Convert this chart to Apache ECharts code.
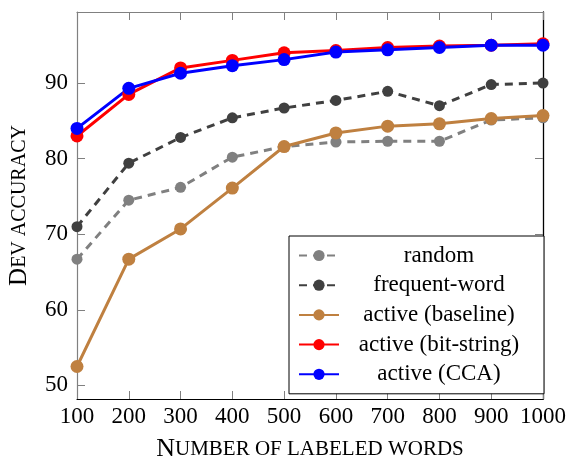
<!DOCTYPE html>
<html>
<head>
<meta charset="utf-8">
<script src="https://cdn.jsdelivr.net/npm/echarts@6/dist/echarts.min.js"></script>
<style>html,body{margin:0;padding:0;background:#fff}#c{width:568px;height:459px}</style>
</head>
<body>
<div id="c"></div>
<script>
var xValues = [100, 200, 300, 400, 500, 600, 700, 800, 900, 1000];
var yTicks = [50, 60, 70, 80, 90];
var randomVals = [66.7, 74.5, 76.2, 80.2, 81.6, 82.2, 82.3, 82.3, 85.1, 85.4];
var frequentVals = [71.0, 79.4, 82.8, 85.4, 86.7, 87.7, 88.9, 87.0, 89.8, 90.0];
var baselineVals = [52.5, 66.7, 70.7, 76.1, 81.6, 83.4, 84.3, 84.6, 85.3, 85.7];
var bitVals = [83.0, 88.5, 92.0, 93.0, 94.0, 94.3, 94.7, 94.9, 95.0, 95.2];
var ccaVals = [84.0, 89.3, 91.3, 92.3, 93.1, 94.1, 94.4, 94.7, 95.0, 95.0];
var seriesNames = ['random', 'frequent-word', 'active (baseline)', 'active (bit-string)', 'active (CCA)'];

function pairs(v) { return xValues.map(function (x, i) { return [x, v[i]]; }); }

var FONT = 'Liberation Serif';
var chart = echarts.init(document.getElementById('c'));

function mkSeries(name, vals, color, dashed, size) {
  return {
    name: name, type: 'line', data: pairs(vals), xAxisIndex: 0, yAxisIndex: 0,
    symbol: 'circle', symbolSize: size,
    lineStyle: { color: color, width: 3, type: dashed ? [8, 6] : 'solid' },
    itemStyle: { color: color },
    emphasis: { disabled: true }, animation: false
  };
}

var titleRich = {
  a: { fontSize: 25, fontFamily: FONT, color: '#000' },
  b: { fontSize: 20, fontFamily: FONT, color: '#000' }
};
var xTitleRich = {
  a: { fontSize: 26, fontFamily: FONT, color: '#000' },
  b: { fontSize: 21, fontFamily: FONT, color: '#000' }
};

chart.setOption({
  animation: false,
  textStyle: { fontFamily: FONT },
  grid: { left: 77, right: 25, top: 12, bottom: 60, outerBoundsMode: 'none', containLabel: false },
  xAxis: [{
    type: 'value', min: 100, max: 1000, interval: 100, position: 'bottom',
    axisLine: { show: true, onZero: false, lineStyle: { color: '#000', width: 1.2 } },
    axisTick: { inside: true, length: 8, lineStyle: { color: '#808080' } },
    axisLabel: { color: '#000', fontSize: 23, fontFamily: FONT, margin: 6, formatter: function (v) { return String(v); } },
    splitLine: { show: false },
    name: '{a|N}{b|UMBER OF LABELED WORDS}', nameLocation: 'middle', nameGap: 37,
    nameTextStyle: { rich: xTitleRich }
  }, {
    type: 'value', min: 100, max: 1000, interval: 100, position: 'top',
    axisLine: { show: true, onZero: false, lineStyle: { color: '#808080', width: 1.2 } },
    axisTick: { inside: true, length: 8, lineStyle: { color: '#808080' } },
    axisLabel: { show: false }, splitLine: { show: false }
  }],
  yAxis: [{
    type: 'value', min: 48.2, max: 99.4, position: 'left',
    axisLine: { show: true, onZero: false, lineStyle: { color: '#808080', width: 1.2 } },
    axisTick: { inside: true, length: 8, customValues: yTicks, lineStyle: { color: '#808080' } },
    axisLabel: { color: '#000', fontSize: 23, fontFamily: FONT, margin: 9, customValues: yTicks },
    splitLine: { show: false },
    name: '{a|D}{b|EV ACCURACY}', nameLocation: 'middle', nameGap: 45, nameRotate: 90,
    nameTextStyle: { rich: titleRich }
  }, {
    type: 'value', min: 48.2, max: 99.4, position: 'right',
    axisLine: { show: true, onZero: false, lineStyle: { color: '#000', width: 1.3 } },
    axisTick: { inside: true, length: 8, customValues: yTicks, lineStyle: { color: '#808080' } },
    axisLabel: { show: false }, splitLine: { show: false }
  }],
  legend: {
    orient: 'vertical', left: 289, top: 236,
    backgroundColor: '#fff', borderColor: '#000', borderWidth: 1,
    padding: [8, 10, 8, 9], itemGap: 6.7, itemWidth: 40, itemHeight: 14,
    data: seriesNames,
    formatter: function (n) { return '{t|' + n + '}'; },
    textStyle: { rich: { t: { fontSize: 23, lineHeight: 24, fontFamily: FONT, color: '#000', width: 190, align: 'center' } } },
    selectedMode: false
  },
  series: [
    mkSeries(seriesNames[0], randomVals, '#808080', true, 11),
    mkSeries(seriesNames[1], frequentVals, '#404040', true, 11),
    mkSeries(seriesNames[2], baselineVals, '#bf8040', false, 13),
    mkSeries(seriesNames[3], bitVals, '#ff0000', false, 13),
    mkSeries(seriesNames[4], ccaVals, '#0000ff', false, 13)
  ]
});
</script>
</body>
</html>
